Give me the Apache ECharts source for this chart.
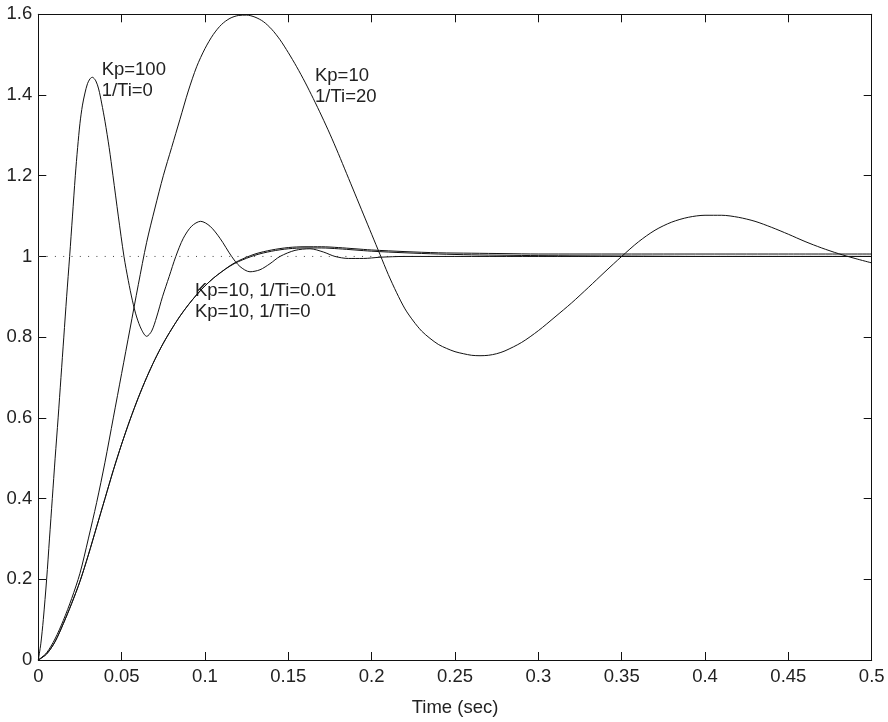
<!DOCTYPE html>
<html>
<head>
<meta charset="utf-8">
<script src="https://cdn.jsdelivr.net/npm/echarts@6/dist/echarts.min.js"></script>
<style>html,body{margin:0;padding:0;background:#fff}#c{width:888px;height:722px}</style>
</head>
<body>
<div id="c"></div>
<script>
// Kp=100, 1/Ti=0
const tA = [0,0.0015,0.003,0.005,0.0067,0.0084,0.0101,0.0119,0.0136,0.0153,0.017,0.0188,0.0205,0.0222,0.0236,0.025,0.0265,0.028,0.0295,0.031,0.0324,0.0345,0.0362,0.038,0.04,0.0425,0.0448,0.048,0.0514,0.054,0.0565,0.059,0.062,0.065,0.068,0.071,0.0745,0.0785,0.0825,0.087,0.092,0.0974,0.103,0.109,0.116,0.121,0.127,0.133,0.139,0.145,0.154,0.163,0.171,0.178,0.186,0.195,0.205,0.22,0.3,0.4,0.5];
const vA = [0,0.04,0.1,0.2,0.3,0.4,0.5,0.6,0.7,0.8,0.9,1.0,1.1,1.2,1.27,1.33,1.375,1.405,1.428,1.44,1.444,1.435,1.415,1.38,1.335,1.27,1.2,1.1,1.0,0.94,0.89,0.85,0.818,0.802,0.815,0.85,0.9,0.95,1.0,1.045,1.075,1.087,1.075,1.045,1.0,0.975,0.962,0.967,0.982,1.0,1.015,1.019,1.011,1.0,0.995,0.995,0.998,1.0,1.0,1.0,1.0];
// Kp=10, 1/Ti=20
const tB = [0,0.005,0.01,0.015,0.02,0.025,0.03,0.035,0.04,0.045,0.05,0.055,0.06,0.065,0.07,0.075,0.08,0.085,0.09,0.095,0.1,0.105,0.11,0.115,0.12,0.125,0.13,0.135,0.14,0.145,0.15,0.155,0.16,0.165,0.17,0.175,0.18,0.185,0.19,0.195,0.2,0.205,0.21,0.215,0.22,0.225,0.23,0.235,0.24,0.245,0.25,0.255,0.26,0.265,0.27,0.275,0.28,0.29,0.3,0.31,0.32,0.33,0.34,0.35,0.36,0.37,0.38,0.39,0.4,0.41,0.42,0.43,0.44,0.45,0.46,0.47,0.48,0.49,0.5];
const vB = [0,0.018,0.052,0.098,0.152,0.215,0.3,0.39,0.49,0.6,0.71,0.82,0.93,1.035,1.12,1.2,1.27,1.34,1.41,1.47,1.515,1.55,1.575,1.59,1.597,1.598,1.593,1.582,1.563,1.537,1.505,1.47,1.432,1.391,1.348,1.303,1.255,1.205,1.155,1.105,1.055,1.005,0.955,0.91,0.87,0.84,0.815,0.797,0.782,0.772,0.764,0.759,0.755,0.754,0.755,0.759,0.766,0.787,0.816,0.85,0.885,0.923,0.962,1.0,1.036,1.065,1.085,1.097,1.102,1.102,1.097,1.087,1.072,1.055,1.037,1.021,1.007,0.995,0.984];
// Kp=10, 1/Ti=0.01 and Kp=10, 1/Ti=0
const tC = [0,0.005,0.01,0.015,0.02,0.025,0.03,0.035,0.04,0.045,0.05,0.055,0.06,0.065,0.07,0.075,0.08,0.085,0.09,0.095,0.1,0.105,0.11,0.115,0.12,0.13,0.14,0.15,0.16,0.17,0.18,0.19,0.2,0.22,0.24,0.26,0.28,0.3,0.35,0.4,0.45,0.5];
const vC = [0,0.015,0.045,0.09,0.14,0.195,0.26,0.33,0.4,0.47,0.535,0.595,0.65,0.7,0.745,0.785,0.82,0.852,0.88,0.905,0.927,0.946,0.962,0.976,0.987,1.003,1.013,1.019,1.021,1.021,1.019,1.016,1.013,1.009,1.006,1.004,1.003,1.002,1.001,1.0,1.0,1.0];
const vD = [0,0.015,0.045,0.09,0.14,0.195,0.26,0.33,0.4,0.47,0.535,0.595,0.65,0.7,0.745,0.785,0.82,0.852,0.88,0.905,0.927,0.946,0.962,0.977,0.989,1.006,1.016,1.022,1.024,1.024,1.022,1.019,1.016,1.012,1.009,1.008,1.007,1.006,1.006,1.006,1.006,1.006];
const refLine = [[0,1],[0.5,1]];
const xTicks = {min:0, max:0.5, interval:0.05};
const yTicks = {min:0, max:1.6, interval:0.2};
const annotations = [
  {text:'Kp=100\n1/Ti=0', t:0.038, v:1.462},
  {text:'Kp=10\n1/Ti=20', t:0.166, v:1.448},
  {text:'Kp=10, 1/Ti=0.01\nKp=10, 1/Ti=0', t:0.094, v:0.9145}
];

const zip = (t,v)=>t.map((x,i)=>[x,v[i]]);
const FONT = 'Liberation Sans, Arial, sans-serif';
const FS = 18.5;
const chart = echarts.init(document.getElementById('c'));
const lineS = (data)=>({type:'line', data, showSymbol:false, smooth:0.3, xAxisIndex:0, yAxisIndex:0,
  lineStyle:{color:'#111', width:1}, animation:false, silent:true});
const axisCommon = {axisLine:{show:true, onZero:false, lineStyle:{color:'#111', width:1}},
  axisTick:{show:true, inside:true, length:8, lineStyle:{color:'#111'}}, splitLine:{show:false}};
chart.setOption({
  animation:false,
  grid:{left:38.3, right:16.3, top:14.3, bottom:51},
  xAxis:[
    Object.assign({type:'value', position:'bottom', name:'Time (sec)', nameLocation:'middle', nameGap:38,
      nameTextStyle:{fontFamily:FONT, fontSize:FS, color:'#222'},
      axisLabel:{fontFamily:FONT, fontSize:FS, color:'#222', margin:7}}, xTicks, axisCommon),
    Object.assign({type:'value', position:'top', axisLabel:{show:false}}, xTicks, axisCommon)
  ],
  yAxis:[
    Object.assign({type:'value', position:'left',
      axisLabel:{fontFamily:FONT, fontSize:FS, color:'#222', margin:6}}, yTicks, axisCommon),
    Object.assign({type:'value', position:'right', axisLabel:{show:false}}, yTicks, axisCommon)
  ],
  series:[
    {type:'line', data:refLine, showSymbol:false, lineStyle:{color:'#444', width:1, type:[1,7.3]}, silent:true},
    lineS(zip(tA,vA)),
    lineS(zip(tB,vB)),
    lineS(zip(tC,vC)),
    lineS(zip(tC,vD))
  ]
});
const LH = 21;
chart.setOption({graphic: annotations.map(a=>{
  const p = chart.convertToPixel({gridIndex:0}, [a.t, a.v]);
  return {type:'text', x:p[0], y:p[1]-LH/2, silent:true,
    style:{text:a.text, font:FS+'px '+FONT, fill:'#222', lineHeight:LH, textAlign:'left', textVerticalAlign:'top'}};
})});
</script>
</body>
</html>
